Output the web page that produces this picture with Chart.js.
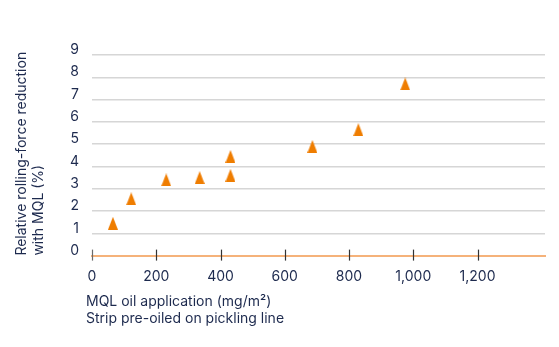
<!DOCTYPE html>
<html>
<head>
<meta charset="utf-8">
<script src="https://cdn.jsdelivr.net/npm/chart.js@4/dist/chart.umd.min.js"></script>
<style>
  html, body { margin: 0; padding: 0; background: #ffffff; }
  #wrap { width: 559px; height: 347px; }
</style>
</head>
<body>
<div id="wrap"><canvas id="chart" width="559" height="347"></canvas></div>
<script>
// MQL oil application on pre-oiled strip (mg/m²) and the resulting rolling-force reduction (%)
const oilApplication = [65, 122, 231, 335, 431, 431, 686, 829, 975];
const forceReduction = [1.45, 2.55, 3.4, 3.5, 3.6, 4.45, 4.9, 5.65, 7.7];

const xTickValues = [0, 200, 400, 600, 800, 1000, 1200];
const yTickValues = [0, 1, 2, 3, 4, 5, 6, 7, 8, 9];

const xTitle = ['MQL oil application (mg/m²)', 'Strip pre-oiled on pickling line'];
const yTitle = ['Relative rolling-force reduction', 'with MQL (%)'];

const TEXT = '#1d2a4e';
const ORANGE = '#ef7d00';
const FONT = 'Inter, "Open Sans", sans-serif';

// Tall orange triangle used as the marker
function triangleMarker(w, h, color) {
  const c = document.createElement('canvas');
  c.width = w; c.height = h;
  const g = c.getContext('2d');
  g.fillStyle = color;
  g.beginPath();
  g.moveTo(w / 2, 0);
  g.lineTo(w, h);
  g.lineTo(0, h);
  g.closePath();
  g.fill();
  return c;
}

// Short tick marks crossing the x axis line
const crossTicks = {
  id: 'crossTicks',
  afterDraw(chart) {
    const sx = chart.scales.x;
    const y0 = chart.scales.y.getPixelForValue(0);
    const ctx = chart.ctx;
    ctx.save();
    ctx.lineWidth = 1.2;
    xTickValues.forEach((v, i) => {
      const px = Math.round(sx.getPixelForValue(v)) + 0.5;
      ctx.strokeStyle = i === 0 ? '#6b6b6b' : '#333333';
      ctx.beginPath();
      ctx.moveTo(px, y0 - 6);
      ctx.lineTo(px, y0 + 5);
      ctx.stroke();
    });
    ctx.restore();
  }
};

// Two-line x axis caption, set slightly left of the axis start
const xCaption = {
  id: 'xCaption',
  afterDraw(chart) {
    const { ctx, chartArea } = chart;
    ctx.save();
    ctx.font = '14px ' + FONT;
    ctx.fillStyle = TEXT;
    ctx.textAlign = 'left';
    ctx.textBaseline = 'middle';
    xTitle.forEach((line, i) => {
      ctx.fillText(line, chartArea.left - 6, chartArea.bottom + 46 + i * 17.6);
    });
    ctx.restore();
  }
};

const points = oilApplication.map((x, i) => ({ x, y: forceReduction[i] }));

new Chart(document.getElementById('chart'), {
  type: 'scatter',
  data: {
    datasets: [{
      data: points,
      pointStyle: triangleMarker(10, 13, ORANGE),
      pointRadius: 7,
      pointHoverRadius: 7,
      backgroundColor: ORANGE,
      borderColor: ORANGE
    }]
  },
  options: {
    responsive: false,
    animation: false,
    events: [],
    layout: { padding: { left: 0, top: 55, right: 14, bottom: 0 } },
    plugins: { legend: { display: false }, tooltip: { enabled: false } },
    scales: {
      x: {
        type: 'linear',
        min: 0,
        max: 1410,
        afterBuildTicks(scale) { scale.ticks = xTickValues.map(v => ({ value: v })); },
        afterFit(scale) { scale.height = 91.4; },
        grid: { display: true, drawOnChartArea: false, drawTicks: false },
        border: { display: true, color: '#f5b27a', width: 2 },
        ticks: {
          color: TEXT,
          font: { family: FONT, size: 14 },
          padding: 13,
          maxRotation: 0,
          callback: v => Number(v).toLocaleString('en-US')
        },
        title: { display: false }
      },
      y: {
        type: 'linear',
        min: 0,
        max: 9,
        afterBuildTicks(scale) { scale.ticks = yTickValues.map(v => ({ value: v })); },
        afterFit(scale) { scale.width = 92; },
        grid: {
          drawTicks: false,
          color: ctx => (ctx.tick && ctx.tick.value === 0) ? 'rgba(0,0,0,0)' : '#d6d6d6',
          lineWidth: 1.4
        },
        border: { display: false },
        ticks: {
          color: TEXT,
          font: { family: FONT, size: 14 },
          padding: 13,
          labelOffset: -5
        },
        title: {
          display: true,
          text: yTitle,
          align: 'start',
          color: TEXT,
          font: { family: FONT, size: 14, lineHeight: 1.214 },
          padding: { top: 13.5, bottom: 0 }
        }
      }
    }
  },
  plugins: [crossTicks, xCaption]
});
</script>
</body>
</html>
